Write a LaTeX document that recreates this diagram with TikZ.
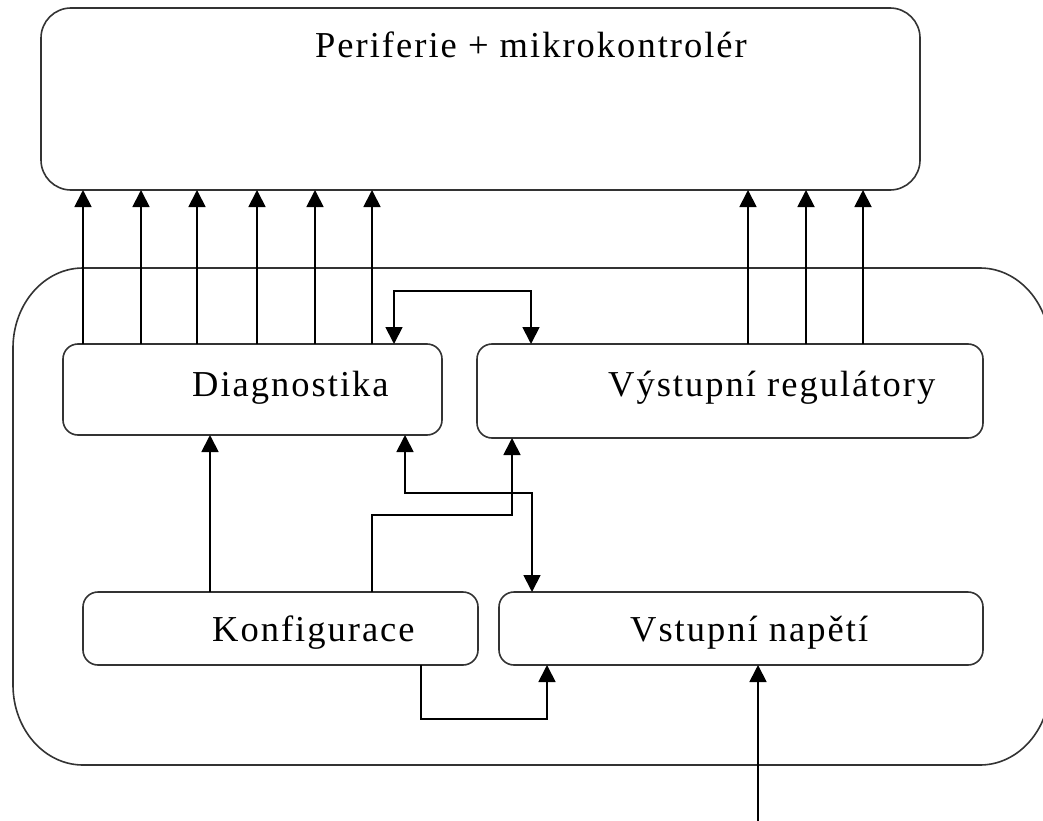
\documentclass[tikz,border=0pt]{standalone}
\usepackage{fontspec}
\setmainfont{Liberation Serif}[LetterSpace=5.5]
\usetikzlibrary{arrows.meta}
\begin{document}
\begin{tikzpicture}[x=1pt,y=-1pt,
  edge/.style={line width=1.8pt, draw=black},
  arr/.style={edge, -{Triangle[width=17pt,length=17pt]}},
  darr/.style={edge, {Triangle[width=17pt,length=17pt]}-{Triangle[width=17pt,length=17pt]}},
  blk/.style={draw=black!80, line width=1.6pt, rounded corners=15pt, inner sep=0pt, outer sep=0pt},
  lbl/.style={anchor=base west, inner sep=0pt, font=\fontsize{36.5}{42}\selectfont}]

\useasboundingbox (0,0) rectangle (1043,821);
\clip (0,0) rectangle (1043,821);

% enclosing module outline (elliptic corners)
\draw[draw=black!80, line width=1.6pt]
  (83,268) -- (980,268)
  .. controls (1018.7,268) and (1050,303.8) .. (1050,348) -- (1050,685)
  .. controls (1050,729.2) and (1018.7,765) .. (980,765) -- (83,765)
  .. controls (44.3,765) and (13,729.2) .. (13,685) -- (13,348)
  .. controls (13,303.8) and (44.3,268) .. (83,268) -- cycle;

% blocks
\node[blk, rounded corners=30pt, minimum width=879pt, minimum height=182pt] (per) at (480.5,99) {};
\node[blk, minimum width=379pt, minimum height=91pt] (diag) at (252.5,389.5) {};
\node[blk, minimum width=506pt, minimum height=94pt] (vyst) at (730,391) {};
\node[blk, minimum width=395pt, minimum height=73pt] (konf) at (280.5,628.5) {};
\node[blk, minimum width=484pt, minimum height=73pt] (vstup) at (741,628.5) {};

% labels
\node[lbl] (tper) at (315,58) {Periferie + mikrokontrolér};
\node[lbl] (tdiag) at (192,396) {Diagnostika};
\node[lbl] (tvyst) at (608,396) {Výstupní regulátory};
\node[lbl] (tkonf) at (212,641) {Konfigurace};
\node[lbl] (tvstup) at (630,641) {Vstupní napětí};

% outputs to the microcontroller side
\foreach \x in {83,141,197,257,315,372}
  \draw[arr] (diag.north -| \x,0) -- (per.south -| \x,0);
\foreach \x in {748,806,863}
  \draw[arr] (vyst.north -| \x,0) -- (per.south -| \x,0);

% internal links
\draw[darr] (diag.north -| 394,0) |- (531,291) -- (vyst.north -| 531,0);
\draw[darr] (diag.south -| 405,0) |- (532,493) -- (vstup.north -| 532,0);
\draw[arr] (konf.north -| 372,0) |- (512,515) -- (vyst.south -| 512,0);
\draw[arr] (konf.north -| 210,0) -- (diag.south -| 210,0);
\draw[arr] (konf.south -| 421,0) |- (547,719) -- (vstup.south -| 547,0);

% external supply input
\coordinate (vin) at (758,821);
\draw[arr] (vin) -- (vstup.south -| vin);
\end{tikzpicture}
\end{document}
